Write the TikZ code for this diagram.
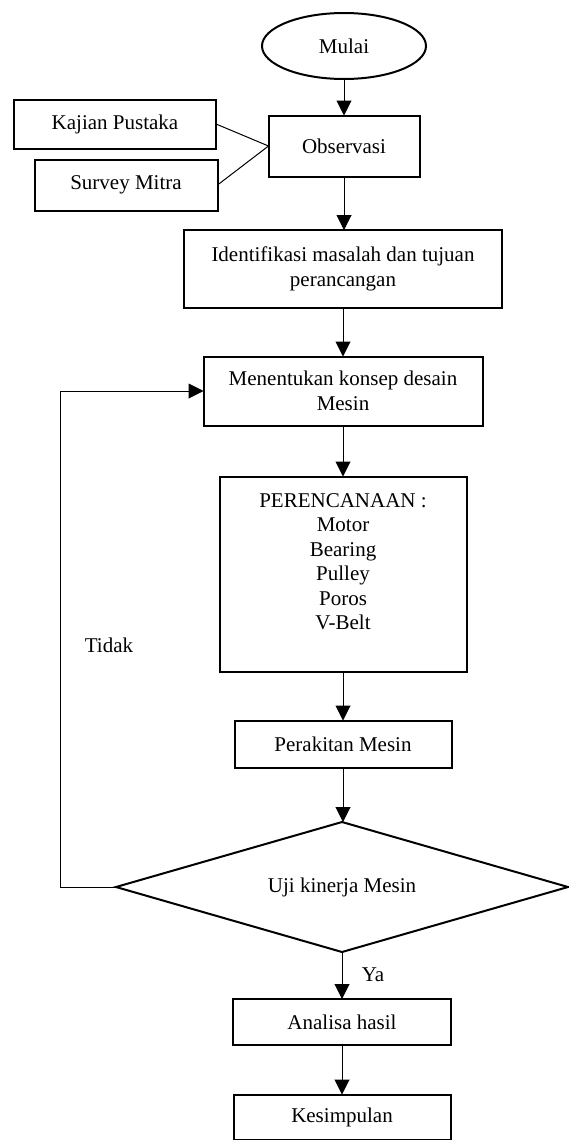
\documentclass[tikz,border=0pt]{standalone}
\usepackage{fontspec}
\setmainfont{Liberation Serif}
\usetikzlibrary{shapes.geometric,arrows.meta}
\tikzset{
  box/.style={shape=rectangle,draw=black,line width=2pt,inner sep=0pt,outer sep=0pt,align=center,font=\fontsize{21}{24.5}\selectfont},
  txt/.style={inner sep=0pt,font=\fontsize{21}{24.5}\selectfont},
  arr/.style={draw=black,line width=1pt,-{Triangle[length=15pt,width=15pt]}},
  ln/.style={draw=black,line width=1pt}
}
\begin{document}
\begin{tikzpicture}[x=1pt,y=-1pt]
\useasboundingbox (0,0) rectangle (568,1140);
\node[box,shape=ellipse,minimum width=164pt,minimum height=66pt] (A) at (344,46) {Mulai};
\node[box,minimum width=151pt,minimum height=61pt] (B) at (344,146) {Observasi};
\node[box,minimum width=202pt,minimum height=49pt] (K) at (115,124) {Kajian Pustaka};
\node[box,minimum width=183pt,minimum height=51pt] (S) at (126,185) {Survey Mitra};
\node[box,minimum width=318pt,minimum height=78pt] (C) at (343,269) {Identifikasi masalah dan tujuan\\perancangan};
\node[box,minimum width=279pt,minimum height=69pt] (D) at (343,391) {Menentukan konsep desain\\Mesin};
\node[box,minimum width=247pt,minimum height=195pt] (E) at (343,574) {PERENCANAAN :\\Motor\\Bearing\\Pulley\\Poros\\V-Belt\\~};
\node[box,minimum width=217pt,minimum height=47pt] (F) at (343,744) {Perakitan Mesin};
\node[box,shape=diamond,shape aspect=3.48,minimum width=452pt,minimum height=130pt] (G) at (342,887) {Uji kinerja Mesin};
\node[box,minimum width=218pt,minimum height=46pt] (H) at (342,1022) {Analisa hasil};
\node[box,minimum width=217pt,minimum height=45pt] (J) at (342,1117) {Kesimpulan};
\node[txt] (T) at (109,645) {Tidak};
\node[txt] (Y) at (373,975) {Ya};
\coordinate (L) at (60,887);
% connectors
\path [arr] (A) edge (B);
\path [ln] (K.east) edge (B.west);
\path [ln] (S.east) edge (B.west);
\draw [arr] (B.south) -- (B.south |- C.north);
\path [arr] (C) edge (D);
\path [arr] (D) edge (E);
\path [arr] (E) edge (F);
\draw [arr] (F.south) -- (F.south |- G.north);
\path [arr] (G) edge (H);
\path [arr] (H) edge (J);
\draw [arr] (G.west) -- (L) |- (D.west);
\end{tikzpicture}
\end{document}
